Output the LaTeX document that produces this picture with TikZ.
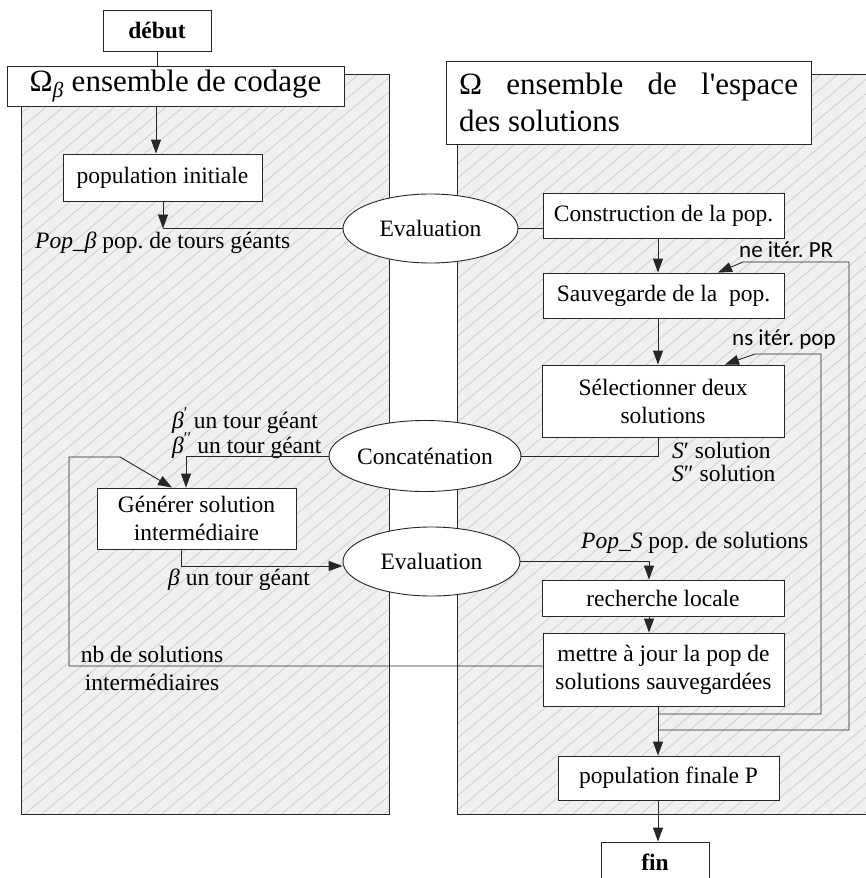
\documentclass[tikz,border=0pt]{standalone}
\usepackage{fontspec}
\setmainfont{Liberation Serif}
\newfontfamily\calib{Carlito}
\usetikzlibrary{shapes.geometric,arrows.meta,patterns.meta}
\newcommand\fsn{\fontsize{23.5}{28}\selectfont}
\newcommand\fsb{\fontsize{31}{37}\selectfont}
\frenchspacing
\begin{document}
\frenchspacing
\begin{tikzpicture}[x=1pt,y=-1pt,
  every node/.style={font=\fsn},
  box/.style={draw=black!85,line width=0.9pt,fill=white,inner sep=0pt,align=center},
  ell/.style={ellipse,draw=black!85,line width=0.9pt,fill=white,inner sep=0pt},
  conn/.style={draw=black!85,line width=0.9pt},
  arr/.style={conn,-{Triangle[length=14pt,width=10pt]}},
  lbl/.style={inner sep=0pt,anchor=base west},
  hatch/.style={pattern={Lines[angle=40,distance=11pt,line width=0.7pt]},pattern color=black!20}]
\useasboundingbox (0,0) rectangle (865,878);
% panels
\path[fill=black!6] (21,74) rectangle (389,814);
\path[hatch] (21,74) rectangle (389,814);
\draw[conn] (21,74) rectangle (389,814);
\path[fill=black!6] (457,74) rectangle (880,814);
\path[hatch] (457,74) rectangle (880,814);
\draw[conn] (457,74) rectangle (880,814);
% nodes
\node[box,font=\bfseries\fsn,minimum width=108pt,minimum height=41pt] (debut) at (157,30.5) {début};
\node[box,font=\fsb,minimum width=337pt,minimum height=40pt] (omb) at (175.5,86) {Ω\textsubscript{\textit{β}} ensemble de codage};
\node[box,font=\fsb,minimum width=365pt,minimum height=83pt,text width=339pt,align=justify] (oms) at (628.5,102.5) {Ω ensemble de l\textquotesingle espace\linebreak des solutions};
\node[box,minimum width=199pt,minimum height=47pt] (popinit) at (162.5,177.5) {population initiale};
\node[ell,minimum width=175pt,minimum height=69pt] (ev1) at (430.5,228.5) {Evaluation};
\node[box,minimum width=241pt,minimum height=45pt] (constr) at (663.5,215.5) {Construction de la pop.};
\node[box,minimum width=241pt,minimum height=45pt] (sauv) at (663.5,295.5) {Sauvegarde de la\ \ pop.};
\node[box,minimum width=242pt,minimum height=72pt] (sel) at (663,401) {Sélectionner deux\\solutions};
\node[ell,minimum width=174pt,minimum height=71pt] (concat) at (425,456) {Concaténation};
\node[box,minimum width=199pt,minimum height=61pt] (gen) at (196.5,518.5) {Générer solution\\intermédiaire};
\node[ell,minimum width=177pt,minimum height=69pt] (ev2) at (431.5,561.5) {Evaluation};
\node[box,minimum width=242pt,minimum height=36pt] (rech) at (663,598) {recherche locale};
\node[box,minimum width=241pt,minimum height=73pt] (mettre) at (663.5,669.5) {mettre à jour la pop de\\solutions sauvegardées};
\node[box,minimum width=221pt,minimum height=44pt] (popfin) at (668.5,778) {population finale P};
\node[box,font=\bfseries\fsn,minimum width=108pt,minimum height=41pt] (fin) at (655,862.5) {fin};
% labels
\node[lbl] (lpopb) at (35,248) {\textit{Pop\_β} pop. de tours géants};
\node[lbl,font=\calib\fontsize{23}{28}\selectfont] (lne) at (739,257) {ne itér. PR};
\node[lbl,font=\calib\fontsize{23}{28}\selectfont] (lns) at (732,345) {ns itér. pop};
\node[lbl] (ls1) at (672,458) {\textit{S}′ solution};
\node[lbl] (ls2) at (672,481) {\textit{S}″ solution};
\node[lbl] (lb1) at (172,428) {\textit{β}\textsuperscript{′} un tour géant};
\node[lbl] (lb2) at (172,453) {\textit{β}\textsuperscript{′′} un tour géant};
\node[lbl] (lb) at (168,585) {\textit{β} un tour géant};
\node[lbl] (lpops) at (581,548) {\textit{Pop\_S} pop. de solutions};
\node[inner sep=0pt,anchor=base,align=center] (lnb) at (152,662) {nb de solutions};
\node[inner sep=0pt,anchor=base,align=center] (lnb2) at (152,690) {intermédiaires};
% coordinates
\coordinate (cx) at (658,0);
\coordinate (p1) at (156,0);
\coordinate (j1) at (163,228.5);
\coordinate (j2) at (658,456);
\coordinate (gx) at (186,0);
\coordinate (gb) at (181,566);
\coordinate (rx) at (649,561.5);
\coordinate (l1a) at (658,730);
\coordinate (l1b) at (849,730);
\coordinate (l1c) at (849,262);
\coordinate (l1d) at (743,262);
\coordinate (l1e) at (718,0);
\coordinate (l2a) at (658,714);
\coordinate (l2b) at (821,714);
\coordinate (l2c) at (821,354);
\coordinate (l2d) at (755,354);
\coordinate (l2e) at (725,0);
\coordinate (m1) at (69,666);
\coordinate (m2) at (69,457);
\coordinate (m3) at (120,457);
\coordinate (m4) at (172,0);
% connectors
\draw[conn] (debut.south) -- (debut.south |- omb.north);
\draw[arr] (p1 |- omb.south) -- (p1 |- popinit.north);
\draw[arr] (popinit.south -| j1) -- (j1);
\draw[conn] (j1) -- (ev1.west);
\draw[conn] (ev1.east) -- (ev1.east -| constr.west);
\draw[arr] (constr.south -| cx) -- (sauv.north -| cx);
\draw[arr] (sauv.south -| cx) -- (sel.north -| cx);
\draw[conn] (sel.south -| cx) -- (j2) -- (concat.east);
\draw[arr] (concat.west) -- (concat.west -| gx) -- (gen.north -| gx);
\draw[arr] (gen.south -| gb) -- (gb) -- (gb -| ev2.west);
\draw[arr] (ev2.east) -- (rx) -- (rx |- rech.north);
\draw[arr] (rech.south -| rx) -- (mettre.north -| rx);
\draw[arr] (mettre.south -| cx) -- (popfin.north -| cx);
\draw[arr] (popfin.south -| cx) -- (fin.north -| cx);
\draw[arr] (l1a) -- (l1b) -- (l1c) -- (l1d) -- (l1e |- sauv.north);
\draw[arr] (l2a) -- (l2b) -- (l2c) -- (l2d) -- (l2e |- sel.north);
\draw[arr] ([yshift=3.5pt]mettre.west) -- (m1) -- (m2) -- (m3) -- (m4 |- gen.north);
\end{tikzpicture}
\end{document}
